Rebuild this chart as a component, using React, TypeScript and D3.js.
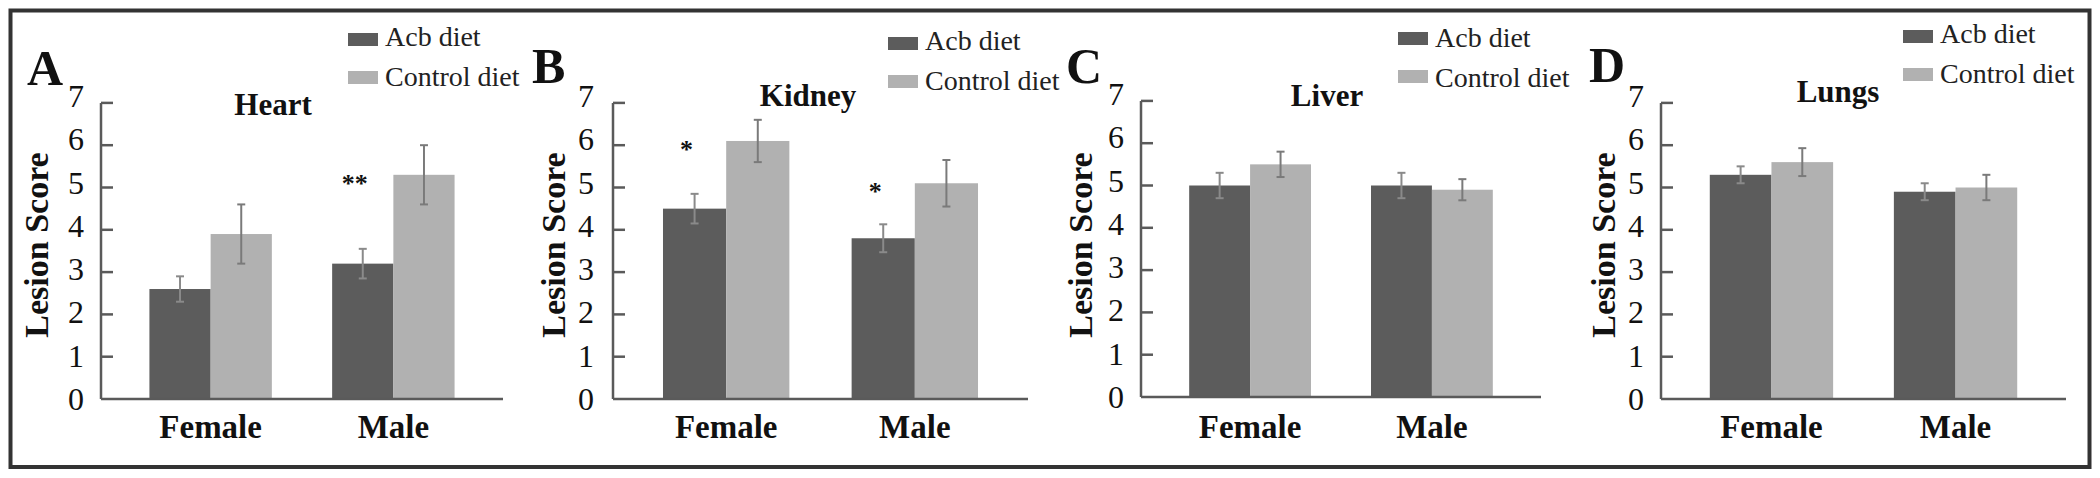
import React from "react";
import * as d3 from "d3";

// ---- data ----
const organs = ["Heart", "Kidney", "Liver", "Lungs"];
const panelLetters = ["A", "B", "C", "D"];
const categories = ["Female", "Male"];
const seriesNames = ["Acb diet", "Control diet"];
const acbValues = [
  [2.6, 3.2],
  [4.5, 3.8],
  [5.0, 5.0],
  [5.3, 4.9],
];
const acbErrors = [
  [0.3, 0.35],
  [0.35, 0.33],
  [0.3, 0.3],
  [0.2, 0.2],
];
const controlValues = [
  [3.9, 5.3],
  [6.1, 5.1],
  [5.5, 4.9],
  [5.6, 5.0],
];
const controlErrors = [
  [0.7, 0.7],
  [0.5, 0.55],
  [0.3, 0.25],
  [0.33, 0.3],
];
const significance = [
  ["", "**"],
  ["*", "*"],
  ["", ""],
  ["", ""],
];
const yTicks = [0, 1, 2, 3, 4, 5, 6, 7];
const yMax = 7;

// ---- layout (positions only) ----
const layout = [
  { axisX: 101, axisLen: 402, base: 399, legX: 348, legY: 33, legTextY: 46, legGap: 38, titleX: 273, titleY: 115, letterX: 27, letterY: 85, ylabX: 48, tickEnd: 17 },
  { axisX: 613, axisLen: 415, base: 399, legX: 888, legY: 37, legTextY: 50, legGap: 38, titleX: 808, titleY: 106, letterX: 532, letterY: 83, ylabX: 565, tickEnd: 19 },
  { axisX: 1141, axisLen: 400, base: 397, legX: 1398, legY: 32, legTextY: 47, legGap: 38, titleX: 1327, titleY: 106, letterX: 1066, letterY: 83, ylabX: 1092, tickEnd: 17 },
  { axisX: 1661, axisLen: 405, base: 399, legX: 1903, legY: 30, legTextY: 43, legGap: 38, titleX: 1838, titleY: 102, letterX: 1589, letterY: 82, ylabX: 1615, tickEnd: 17 },
];

const DARK = "#5c5c5c";
const LIGHT = "#b1b1b1";
const AXIS = "#5a5a5a";
const ERR = "#7a7a7a";
const FONT = "Liberation Serif";
const UNIT = 42.3;

function T(props: {
  x?: number;
  y?: number;
  size: number;
  bold?: boolean;
  color?: string;
  anchor?: string;
  transform?: string;
  children: React.ReactNode;
}) {
  return (
    <text
      x={props.x}
      y={props.y}
      transform={props.transform}
      textAnchor={props.anchor || "start"}
      fontFamily={FONT}
      fontSize={props.size}
      fontWeight={props.bold ? "bold" : "normal"}
      fill={props.color || "#111"}
      style={{ fontFamily: FONT }}
    >
      {props.children}
    </text>
  );
}

function Panel({ i }: { i: number }) {
  const L = layout[i];
  const y = d3.scaleLinear().domain([0, yMax]).range([L.base, L.base - yMax * UNIT]);
  const yLab = d3.scaleLinear().domain([0, yMax]).range([L.base + 11, L.base - yMax * UNIT + 4]);
  const x0 = d3
    .scaleBand<string>()
    .domain(categories)
    .range([L.axisX, L.axisX + L.axisLen])
    .paddingInner(0.33)
    .paddingOuter(0.265);
  const x1 = d3.scaleBand<string>().domain(seriesNames).range([0, x0.bandwidth()]).padding(0);
  const vals = [acbValues[i], controlValues[i]];
  const errs = [acbErrors[i], controlErrors[i]];
  const colors = [DARK, LIGHT];

  return (
    <g>
      {categories.map((c, ci) =>
        seriesNames.map((s, si) => {
          const v = vals[si][ci];
          const bx = (x0(c) as number) + (x1(s) as number);
          return (
            <rect key={c + s} x={bx} y={y(v)} width={x1.bandwidth()} height={y(0) - y(v)} fill={colors[si]} />
          );
        })
      )}
      {categories.map((c, ci) =>
        seriesNames.map((s, si) => {
          const v = vals[si][ci];
          const e = errs[si][ci];
          const cx = (x0(c) as number) + (x1(s) as number) + x1.bandwidth() / 2;
          return (
            <g key={"e" + c + s} stroke={si === 0 ? "#8a8a8a" : ERR} strokeWidth={2}>
              <line x1={cx} x2={cx} y1={y(v + e)} y2={y(v - e)} />
              <line x1={cx - 4} x2={cx + 4} y1={y(v + e)} y2={y(v + e)} />
              <line x1={cx - 4} x2={cx + 4} y1={y(v - e)} y2={y(v - e)} />
            </g>
          );
        })
      )}
      {categories.map((c, ci) => {
        const sig = significance[i][ci];
        if (!sig) return null;
        const cx = (x0(c) as number) + (x1(seriesNames[0]) as number) + x1.bandwidth() / 2 - 8;
        return (
          <T key={"s" + c} x={cx} y={y(controlValues[i][ci]) + 17} anchor="middle" size={26} bold>
            {sig}
          </T>
        );
      })}
      <line x1={L.axisX} x2={L.axisX} y1={y(yMax)} y2={y(0)} stroke={AXIS} strokeWidth={2.5} />
      <line x1={L.axisX} x2={L.axisX + L.axisLen} y1={y(0)} y2={y(0)} stroke={AXIS} strokeWidth={2.5} />
      {yTicks.filter((t) => t > 0).map((t) => (
        <line key={"t" + t} x1={L.axisX} x2={L.axisX + 12} y1={y(t)} y2={y(t)} stroke={AXIS} strokeWidth={2.5} />
      ))}
      {yTicks.map((t) => (
        <T key={"l" + t} x={L.axisX - L.tickEnd} y={yLab(t)} anchor="end" size={32}>
          {t}
        </T>
      ))}
      {categories.map((c) => (
        <T key={"x" + c} x={(x0(c) as number) + x0.bandwidth() / 2} y={438} anchor="middle" size={33} bold>
          {c}
        </T>
      ))}
      <T transform={`translate(${L.ylabX},${245}) rotate(-90)`} anchor="middle" size={34} bold>
        Lesion Score
      </T>
      <T x={L.titleX} y={L.titleY} anchor="middle" size={31} bold>
        {organs[i]}
      </T>
      <T x={L.letterX} y={L.letterY} size={50} bold>
        {panelLetters[i]}
      </T>
      {seriesNames.map((s, si) => (
        <g key={"lg" + s}>
          <rect x={L.legX} y={L.legY + si * L.legGap} width={30} height={13} fill={colors[si]} />
          <T x={L.legX + 37} y={L.legTextY + si * 40} size={28} color="#222">
            {s}
          </T>
        </g>
      ))}
    </g>
  );
}

export default function App() {
  return (
    <svg width={2100} height={478} style={{ position: "absolute", left: 0, top: 0, background: "#fff" }}>
      <style>{`text { font-family: "Liberation Serif", "Times New Roman", Tinos, serif; }`}</style>
      <rect x={0} y={0} width={2100} height={478} fill="#fff" />
      <rect x={10.5} y={10.5} width={2079} height={456.5} fill="none" stroke="#333" strokeWidth={4} />
      {organs.map((_, i) => (
        <Panel key={i} i={i} />
      ))}
    </svg>
  );
}
